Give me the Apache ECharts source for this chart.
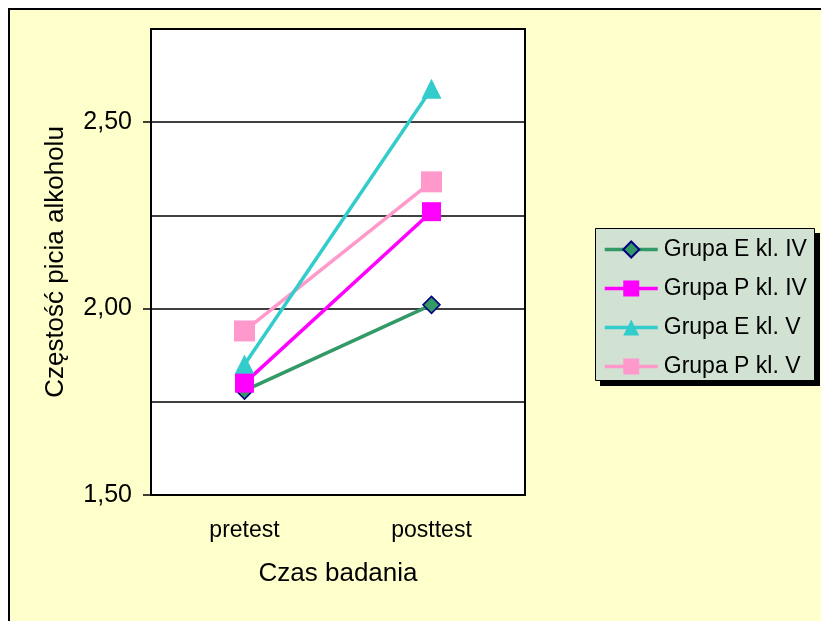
<!DOCTYPE html>
<html>
<head>
<meta charset="utf-8">
<script src="https://cdn.jsdelivr.net/npm/echarts@6/dist/echarts.min.js"></script>
<style>
html,body{margin:0;padding:0;background:#fff;}
#c{width:821px;height:621px;}
</style>
</head>
<body>
<div id="c"></div>
<script>
const categories = ['pretest', 'posttest'];
const seriesNames = ['Grupa E kl. IV', 'Grupa P kl. IV', 'Grupa E kl. V', 'Grupa P kl. V'];
const grupaEklIV = [1.78, 2.01];
const grupaPklIV = [1.80, 2.26];
const grupaEklV = [1.85, 2.59];
const grupaPklV = [1.94, 2.34];
const yTickLabels = [1.5, 2.0, 2.5];

const FONT = '"Liberation Sans", Arial, sans-serif';
const chart = echarts.init(document.getElementById('c'), null, {renderer: 'canvas'});

function mk(name, data, color, symbol, size, border) {
  return {
    name: name, type: 'line', data: data,
    symbol: symbol, symbolSize: size,
    lineStyle: {color: color, width: 3.5},
    itemStyle: {color: color, borderColor: border || color, borderWidth: border ? 1.5 : 0},
    emphasis: {disabled: true},
    animation: false
  };
}

chart.setOption({
  backgroundColor: '#ffffff',
  animation: false,
  textStyle: {fontFamily: FONT},
  graphic: [
    {type: 'rect', z: -10, silent: true,
     shape: {x: 9, y: 9, width: 900, height: 700},
     style: {fill: '#FFFFCC', stroke: '#000', lineWidth: 2}},
    {type: 'rect', z: 1, silent: true,
     shape: {x: 600, y: 233, width: 220, height: 153},
     style: {fill: '#000'}},
    {type: 'rect', z: 2, silent: true,
     shape: {x: 595.5, y: 228.5, width: 219, height: 152},
     style: {fill: '#D2E2D2', stroke: '#000', lineWidth: 1}}
  ],
  grid: {
    left: 151, top: 29, width: 374, height: 466,
    show: true, backgroundColor: '#ffffff', borderColor: '#000', borderWidth: 2
  },
  legend: {
    orient: 'vertical',
    left: 595, top: 228,
    padding: [10, 8, 8, 8],
    itemGap: 16,
    itemWidth: 53, itemHeight: 20,
    z: 10,
    lineStyle: {width: 3.5},
    textStyle: {fontFamily: FONT, fontSize: 23, color: '#000', lineHeight: 22, padding: [0, 0, 0, 1]},
    data: seriesNames
  },
  xAxis: {
    type: 'category', data: categories, boundaryGap: true,
    axisLine: {lineStyle: {color: '#000', width: 2}},
    axisTick: {show: false},
    axisLabel: {color: '#000', fontSize: 23, fontFamily: FONT, margin: 24},
    name: 'Czas badania', nameLocation: 'middle', nameGap: 66,
    nameTextStyle: {color: '#000', fontSize: 26, fontFamily: FONT}
  },
  yAxis: [{
    type: 'value', min: 1.5, max: 2.75, interval: 0.25,
    position: 'left',
    axisLine: {show: false},
    axisTick: {show: false},
    axisLabel: {show: false},
    splitLine: {show: true, lineStyle: {color: '#000', width: 1.5}}
  }, {
    type: 'value', min: 1.5, max: 2.75, interval: 0.25,
    position: 'left', offset: 0,
    axisLine: {show: true, lineStyle: {color: '#000', width: 2}},
    axisTick: {show: true, length: 8, customValues: yTickLabels, lineStyle: {color: '#000', width: 1.5}},
    axisLabel: {
      color: '#000', fontSize: 25, fontFamily: FONT, margin: 19,
      customValues: yTickLabels,
      formatter: v => v.toFixed(2).replace('.', ',')
    },
    splitLine: {show: false},
    name: 'Częstość picia alkoholu', nameLocation: 'middle', nameGap: 82,
    nameTextStyle: {color: '#000', fontSize: 26, fontFamily: FONT}
  }],
  series: [
    mk(seriesNames[0], grupaEklIV, '#339966', 'diamond', 17, '#000080'),
    mk(seriesNames[3], grupaPklV, '#FF99CC', 'rect', 21),
    mk(seriesNames[2], grupaEklV, '#33CCCC', 'triangle', 20),
    mk(seriesNames[1], grupaPklIV, '#FF00FF', 'rect', 19)
  ]
});
</script>
</body>
</html>
